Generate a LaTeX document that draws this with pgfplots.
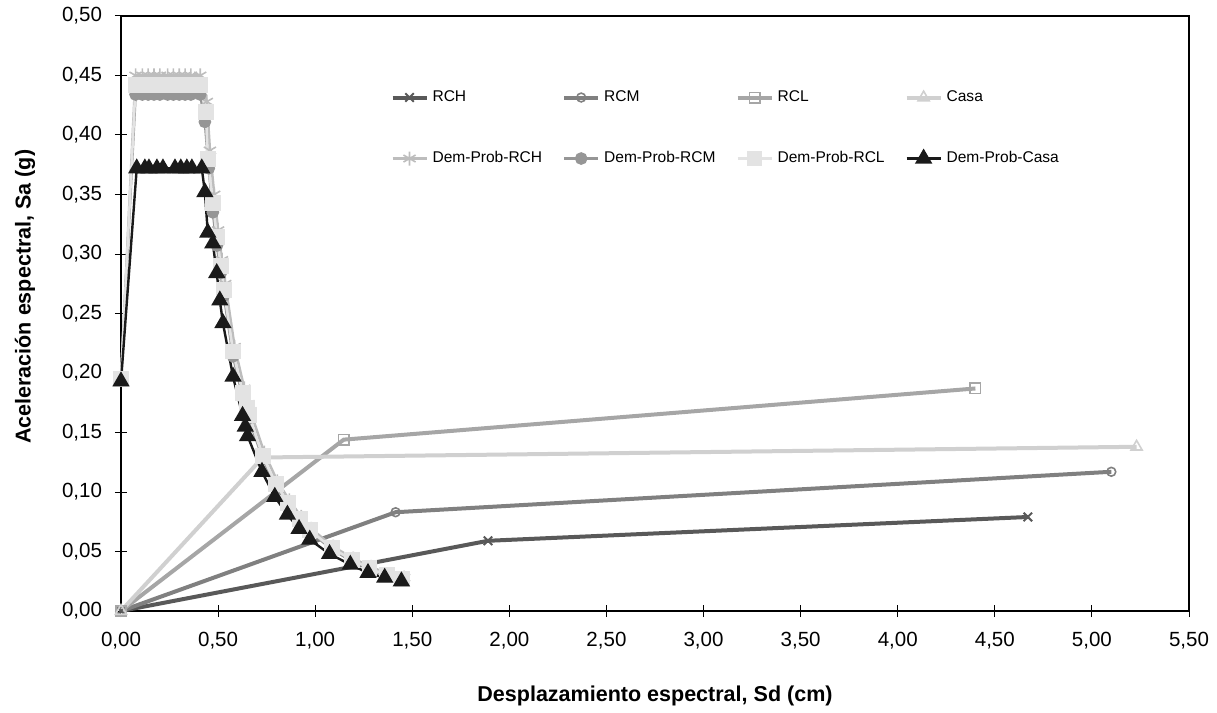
\documentclass[border=0pt]{standalone}
\usepackage{pgfplots}
\pgfplotsset{compat=1.18}
\usepackage{fontspec}
\setmainfont{Liberation Sans}
\definecolor{cRCH}{HTML}{595959}
\definecolor{cRCM}{HTML}{808080}
\definecolor{cRCL}{HTML}{A6A6A6}
\definecolor{cCasa}{HTML}{D0D0D0}
\definecolor{cDRCH}{HTML}{BDBDBD}
\definecolor{cDRCM}{HTML}{969696}
\definecolor{cDRCL}{HTML}{E3E3E3}
\definecolor{cDCasa}{HTML}{1A1A1A}
\begin{document}
\begin{tikzpicture}
\begin{axis}[
  name=ax,
  width=534bp, height=297.5bp, scale only axis,
  xmin=0, xmax=5.5, ymin=0, ymax=0.5,
  xtick={0,0.5,1,1.5,2,2.5,3,3.5,4,4.5,5,5.5},
  ytick={0,0.05,0.1,0.15,0.2,0.25,0.3,0.35,0.4,0.45,0.5},
  /pgf/number format/.cd, fixed, fixed zerofill, precision=2, use comma, assume math mode=true,
  /pgfplots/.cd,
  tick align=center, major tick length=6bp,
  xtick pos=bottom, ytick pos=left,
  tick style={black, line width=0.5bp},
  axis line style={black, line width=0.6bp},
  ticklabel style={font=\fontsize{10.3}{12}\selectfont},
  x tick label style={yshift=-4bp},
  y tick label style={xshift=-3bp},
  clip=false,
  xlabel={Desplazamiento espectral, Sd (cm)},
  ylabel={Aceleración espectral, Sa (g)},
  label style={font=\fontsize{10.8}{13}\selectfont\bfseries},
  xlabel style={at={(axis description cs:0.5,-0.143)}, anchor=center},
  ylabel style={at={(axis description cs:-0.0899,0.528)}, anchor=center},
  legend columns=4,
  legend cell align=left,
  legend style={draw=none, fill=none, inner sep=0pt, at={(0.252,0.882)}, anchor=north west,
    font=\fontsize{7.8}{9}\selectfont, row sep=19.5bp,
    /tikz/every even column/.append style={column sep=8bp}},
]
\addplot[color=cRCH, line width=2bp, mark=x, mark size=3bp, mark options={solid, line width=1bp}]
  coordinates {(0,0) (1.89,0.059) (4.67,0.079)};
\addlegendentry{RCH}
\addplot[color=cRCM, line width=2bp, mark=o, mark size=2.2bp, mark options={solid, fill=white, line width=0.8bp}]
  coordinates {(0,0) (1.414,0.083) (5.10,0.117)};
\addlegendentry{RCM}
\addplot[color=cRCL, line width=2bp, mark=square, mark size=2.6bp, mark options={solid, fill=white, line width=0.8bp}]
  coordinates {(0,0) (1.147,0.144) (4.40,0.187)};
\addlegendentry{RCL}
\addplot[color=cCasa, line width=2bp, mark=triangle, mark size=3.2bp, mark options={solid, fill=white, line width=0.8bp}]
  coordinates {(0,0) (0.73,0.129) (5.23,0.138)};
\addlegendentry{Casa}
\addplot[color=cDRCH, line width=1.3bp, mark=asterisk, mark size=3.5bp, mark options={solid, line width=0.8bp}]
  coordinates {(0,0.195) (0.075,0.450) (0.11,0.450) (0.14,0.450) (0.17,0.450) (0.20,0.450) (0.24,0.450) (0.27,0.450) (0.30,0.450) (0.33,0.450) (0.36,0.450) (0.408,0.450)
  (0.442,0.428) (0.458,0.387) (0.480,0.350) (0.500,0.320) (0.520,0.295) (0.537,0.275) (0.585,0.222) (0.635,0.187) (0.656,0.174) (0.666,0.168) (0.738,0.133) (0.805,0.109) (0.867,0.093) (0.928,0.079) (0.980,0.069) (1.093,0.054) (1.196,0.044) (1.288,0.037) (1.376,0.031) (1.458,0.028)};
\addlegendentry{Dem-Prob-RCH}
\addplot[color=cDRCM, line width=1.3bp, mark=*, mark size=2.5bp, mark options={solid}]
  coordinates {(0,0.195) (0.075,0.434) (0.11,0.434) (0.14,0.434) (0.17,0.434) (0.20,0.434) (0.24,0.434) (0.27,0.434) (0.30,0.434) (0.33,0.434) (0.36,0.434) (0.408,0.434)
  (0.432,0.411) (0.452,0.372) (0.473,0.335) (0.494,0.307) (0.514,0.284) (0.530,0.265) (0.577,0.214) (0.627,0.180) (0.648,0.168) (0.658,0.162) (0.730,0.128) (0.797,0.105) (0.859,0.089) (0.920,0.076) (0.972,0.067) (1.085,0.052) (1.188,0.042) (1.280,0.035) (1.368,0.030) (1.450,0.026)};
\addlegendentry{Dem-Prob-RCM}
\addplot[color=cDRCL, line width=1.3bp, mark=square*, mark size=3.3bp, mark options={solid}]
  coordinates {(0,0.195) (0.075,0.442) (0.11,0.442) (0.14,0.442) (0.17,0.442) (0.20,0.442) (0.24,0.442) (0.27,0.442) (0.30,0.442) (0.33,0.442) (0.36,0.442) (0.408,0.442)
  (0.437,0.419) (0.447,0.380) (0.473,0.343) (0.494,0.314) (0.514,0.290) (0.530,0.270) (0.577,0.218) (0.627,0.183) (0.648,0.171) (0.658,0.165) (0.730,0.130) (0.797,0.107) (0.859,0.091) (0.920,0.077) (0.972,0.068) (1.085,0.053) (1.188,0.043) (1.280,0.036) (1.368,0.030) (1.450,0.027)};
\addlegendentry{Dem-Prob-RCL}
\addplot[color=cDCasa, line width=1.2bp, mark=triangle*, mark size=3.8bp, mark options={solid}]
  coordinates {(0,0.193) (0.081,0.372) (0.123,0.372) (0.144,0.372) (0.185,0.372) (0.216,0.372) (0.278,0.372) (0.308,0.372) (0.339,0.372) (0.365,0.372) (0.416,0.372)
  (0.432,0.352) (0.447,0.318) (0.473,0.309) (0.493,0.284) (0.509,0.261) (0.525,0.242) (0.577,0.197) (0.626,0.164) (0.640,0.155) (0.652,0.147) (0.726,0.117) (0.792,0.096) (0.857,0.081) (0.917,0.069) (0.972,0.060) (1.074,0.048) (1.181,0.039) (1.272,0.032) (1.358,0.028) (1.444,0.025)};
\addlegendentry{Dem-Prob-Casa}
\end{axis}
\path ([shift={(-60.5bp,-46.5bp)}]ax.south west) rectangle ([shift={(14bp,8bp)}]ax.north east);
\end{tikzpicture}
\end{document}
